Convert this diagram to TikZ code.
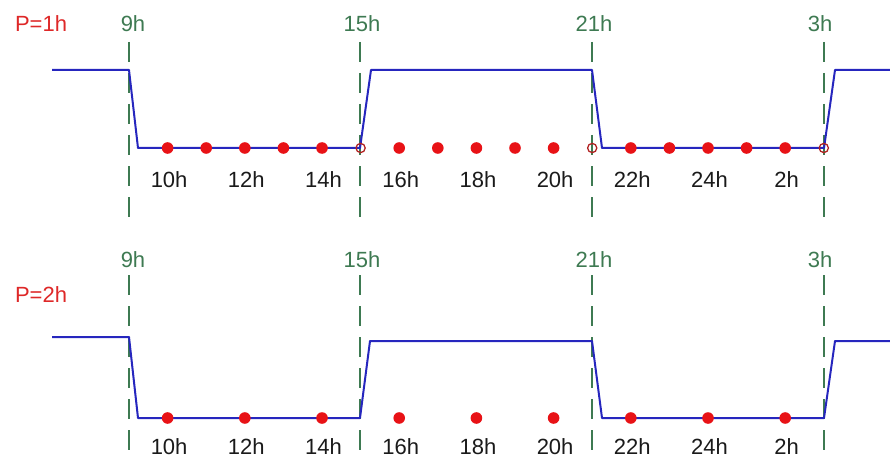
\documentclass[tikz,border=0pt]{standalone}
\usepackage{fontspec}
\setmainfont{Liberation Sans}
\definecolor{wavecol}{RGB}{38,38,190}
\definecolor{markcol}{RGB}{62,122,82}
\definecolor{dotcol}{RGB}{232,18,22}
\definecolor{ringcol}{RGB}{178,34,34}
\definecolor{pcol}{RGB}{222,40,40}
\definecolor{txtcol}{RGB}{26,26,26}
\tikzset{
  signal/.style={color=wavecol,line width=2pt,line join=round},
  marker/.style={color=markcol,line width=1.6pt,dash pattern=on 20pt off 11pt},
  hourdot/.style={fill=dotcol},
  opendot/.style={draw=ringcol,line width=1.3pt},
  lbl/.style={inner sep=0pt,anchor=base,font=\fontsize{22}{24}\selectfont},
  hourlbl/.style={lbl,text=txtcol},
  marklbl/.style={lbl,text=markcol},
  plbl/.style={lbl,text=pcol}
}
\begin{document}
\begin{tikzpicture}[x=1pt,y=-1pt]
    \useasboundingbox (0,0) rectangle (890,457);

    % upper panel: P=1h
    \node[plbl] (p1) at (41,32) {P=1h};
    \foreach \x/\t in {133/9h,362/15h,594/21h,820/3h}
        \node[marklbl] (u\t) at (\x,32) {\t};
    \foreach \x in {129,360,592,824}
        \draw[marker] (\x,42) -- (\x,217);

    % on/off signal
    \draw[signal] (52,70) -- (129,70) -- (138,148) -- (360,148) -- (371,70)
        -- (592,70) -- (602,148) -- (824,148) -- (835,70) -- (890,70);

    % sample points every hour
    \foreach \h in {1,2,3,4,5,7,8,9,10,11,13,14,15,16,17}
        \fill[hourdot] ({129+38.6*\h},148) circle (5.8pt);
    \foreach \h in {6,12,18}
        \draw[opendot] ({129+38.6*\h},148) circle (4.6pt);
    \foreach \h/\t in {1/10h,3/12h,5/14h,7/16h,9/18h,11/20h,13/22h,15/24h,17/2h}
        \node[hourlbl] (ua\h) at ({130.5+38.6*\h},187) {\t};

    % lower panel: P=2h
    \node[plbl] (p2) at (41,302) {P=2h};
    \foreach \x/\t in {133/9h,362/15h,594/21h,820/3h}
        \node[marklbl] (l\t) at (\x,267) {\t};
    \foreach \x in {129,360,592,824}
        \draw[marker] (\x,275) -- (\x,450);

    % on/off signal
    \draw[signal] (52,337) -- (129,337) -- (138,418) -- (360,418) -- (370,341)
        -- (592,341) -- (602,418) -- (824,418) -- (835,341) -- (890,341);

    % sample points every 2 hours
    \foreach \h/\t in {1/10h,3/12h,5/14h,7/16h,9/18h,11/20h,13/22h,15/24h,17/2h}{
        \fill[hourdot] ({129+38.6*\h},418) circle (5.8pt);
        \node[hourlbl] (la\h) at ({130.5+38.6*\h},454) {\t};
    }
\end{tikzpicture}
\end{document}
